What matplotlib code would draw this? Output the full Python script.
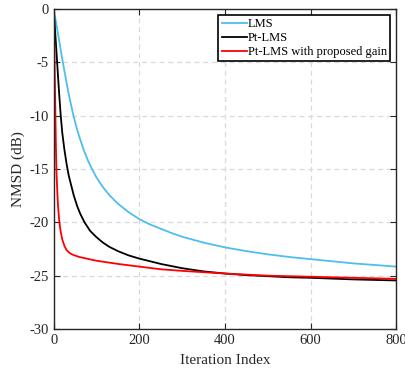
import matplotlib
matplotlib.use("Agg")
import matplotlib.pyplot as plt

# Data
lms_x = [0, 5, 10, 15, 20, 25, 30, 35, 40, 45, 50, 55, 60, 70, 80, 90, 100, 115, 130, 150, 175,
         200, 225, 250, 275, 300, 350, 400, 450, 500, 550, 600, 650, 700, 750, 800]
lms_y = [0, -1.15, -2.3, -3.5, -4.7, -5.8, -6.9, -7.95, -8.9, -9.8, -10.6, -11.35, -12.0, -13.2, -14.2,
         -15.05, -15.8, -16.7, -17.45, -18.25, -19.05, -19.7, -20.2, -20.6, -21.0, -21.35, -21.9, -22.35,
         -22.7, -23.0, -23.25, -23.45, -23.65, -23.85, -24.0, -24.15]

pt_x = [0, 4, 8, 12, 16, 20, 25, 30, 35, 40, 47, 55, 62, 72, 85, 100, 115, 130, 150, 175, 200,
        250, 300, 350, 400, 450, 500, 550, 600, 700, 800]
pt_y = [0, -2.5, -5, -7.5, -9.8, -11.6, -13.2, -14.5, -15.6, -16.4, -17.5, -18.5, -19.2, -20.0,
        -20.8, -21.4, -21.9, -22.3, -22.7, -23.1, -23.4, -23.9, -24.3, -24.6, -24.8, -24.95,
        -25.05, -25.15, -25.2, -25.35, -25.45]

pg_x = [0, 1, 2, 3, 4, 5, 6, 7, 8.5, 10, 13, 16, 20, 25, 30, 38, 46, 60, 77, 100, 150, 200,
        250, 300, 400, 500, 600, 700, 800]
pg_y = [0, -2.5, -5, -7.5, -10, -12.5, -14.5, -15.8, -17.2, -18.4, -19.9, -20.8, -21.6, -22.2,
        -22.6, -22.9, -23.06, -23.25, -23.4, -23.6, -23.9, -24.15, -24.4, -24.55, -24.8, -25.0,
        -25.1, -25.2, -25.3]

series_labels = ["LMS", "Pt-LMS", "Pt-LMS with proposed gain"]
x_ticks = [0, 200, 400, 600, 800]
y_ticks = [0, -5, -10, -15, -20, -25, -30]

plt.rcParams['font.family'] = ['Liberation Serif', 'DejaVu Serif']
plt.rcParams['font.size'] = 10

fig = plt.figure(figsize=(4.05, 3.70), dpi=100)
ax = fig.add_axes([0.1326, 0.1108, 0.9785 - 0.1326, 0.9757 - 0.1108])

ax.plot(lms_x, lms_y, color='#4DBEEE', lw=1.3, label=series_labels[0])
ax.plot(pt_x, pt_y, color='black', lw=1.3, label=series_labels[1])
ax.plot(pg_x, pg_y, color='#FF0000', lw=1.3, label=series_labels[2])

ax.set_xlim(0, 800)
ax.set_ylim(-30, 0)
ax.set_xticks(x_ticks)
ax.set_yticks(y_ticks)
ax.set_yticklabels([str(v) for v in y_ticks])
ax.grid(True, linestyle=(0, (4, 3)), color='#d9d9d9', lw=0.9)
ax.tick_params(direction='in', top=True, right=True, length=4, width=0.8,
               colors='#262626', labelcolor='#262626', labelsize=10.5)
for s in ax.spines.values():
    s.set_color('#262626')
    s.set_linewidth(1.0)

ax.set_xlabel('Iteration Index', fontsize=11, color='#262626', labelpad=5)
ax.set_ylabel('NMSD (dB)', fontsize=11, color='#262626', labelpad=3)

leg = ax.legend(loc='upper right', fontsize=9, frameon=True, fancybox=False,
                edgecolor='black', framealpha=1, handlelength=2.0, handletextpad=0.1,
                borderpad=0.25, labelspacing=0.15, borderaxespad=0.5)
leg.get_frame().set_linewidth(1.2)

fig.savefig('out.png', dpi=100)
